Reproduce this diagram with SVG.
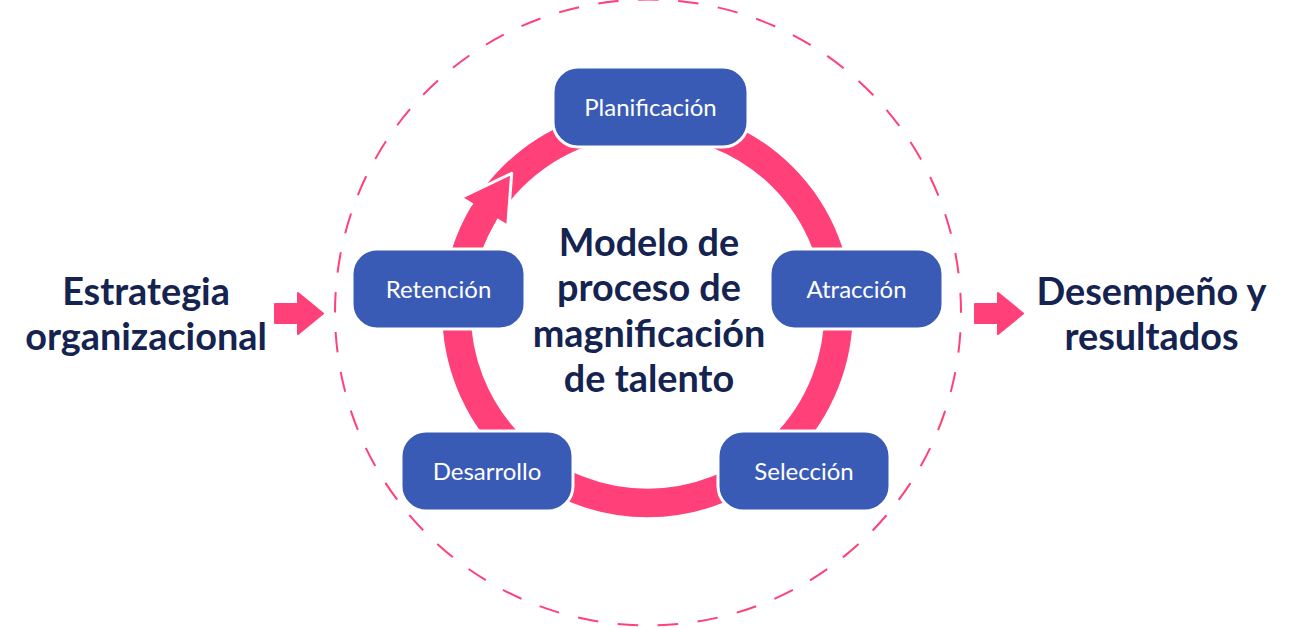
<svg xmlns="http://www.w3.org/2000/svg" width="1296" height="628" viewBox="0 0 1296 628">
  <defs>
    <style>
      .pink { fill: #FF4079; }
      .node rect { fill: #3A5BB5; stroke: #FFFFFF; stroke-width: 3; }
      .node text { font-family: Lato, "Liberation Sans", sans-serif; font-size: 24px; fill: #FFFFFF; text-anchor: middle; }
      .title { font-family: Lato, "Liberation Sans", sans-serif; font-weight: bold; font-size: 37.8px; fill: #14234F; text-anchor: middle; }
      .side { fill: #FF4079; stroke: #FF4079; stroke-width: 2; stroke-linejoin: round; }
    </style>
  </defs>
  <rect width="1296" height="628" fill="#FFFFFF"/>

  <circle id="boundary" cx="648" cy="312.5" r="313" fill="none" stroke="#FF4079" stroke-width="2" stroke-dasharray="20.5 19.63" stroke-dashoffset="20.3"/>

  <g id="connectors">
    <circle cx="647.5" cy="312" r="191" fill="none" stroke="#FF4079" stroke-width="28.5"/>
    <polygon points="511.7,173.3 460.8,197.6 507.7,226.3" fill="#FF4079" stroke="#FFFFFF" stroke-width="3" stroke-linejoin="round"/>
    <path d="M459.4,278.8 A191,191 0 0 1 486.4,209.4" fill="none" stroke="#FF4079" stroke-width="28.5"/>
    <polygon class="side" points="275,304 298,304 298,293 323,313.5 298,334 298,323 275,323"/>
    <polygon class="side" points="975,304 998,304 998,293 1023,313.5 998,334 998,323 975,323"/>
  </g>

  <g id="node-planificacion" class="node">
    <rect x="553" y="67" width="195" height="80" rx="25"/>
    <text x="650.5" y="116">Planificación</text>
  </g>
  <g id="node-atraccion" class="node">
    <rect x="770" y="249" width="173" height="80" rx="25"/>
    <text x="856.5" y="298">Atracción</text>
  </g>
  <g id="node-seleccion" class="node">
    <rect x="718" y="431" width="172" height="80" rx="25"/>
    <text x="804" y="480">Selección</text>
  </g>
  <g id="node-desarrollo" class="node">
    <rect x="401" y="431" width="172" height="80" rx="25"/>
    <text x="487" y="480">Desarrollo</text>
  </g>
  <g id="node-retencion" class="node">
    <rect x="352" y="249" width="173" height="80" rx="25"/>
    <text x="438.5" y="298">Retención</text>
  </g>

  <g id="center-title">
    <text class="title" x="649" y="256">Modelo de</text>
    <text class="title" x="649" y="301">proceso de</text>
    <text class="title" x="649" y="347">magnificación</text>
    <text class="title" x="649" y="392">de talento</text>
  </g>

  <g id="input-label">
    <text class="title" x="146" y="305">Estrategia</text>
    <text class="title" x="146" y="350">organizacional</text>
  </g>
  <g id="output-label">
    <text class="title" x="1151.5" y="305">Desempeño y</text>
    <text class="title" x="1151.5" y="350">resultados</text>
  </g>
</svg>
